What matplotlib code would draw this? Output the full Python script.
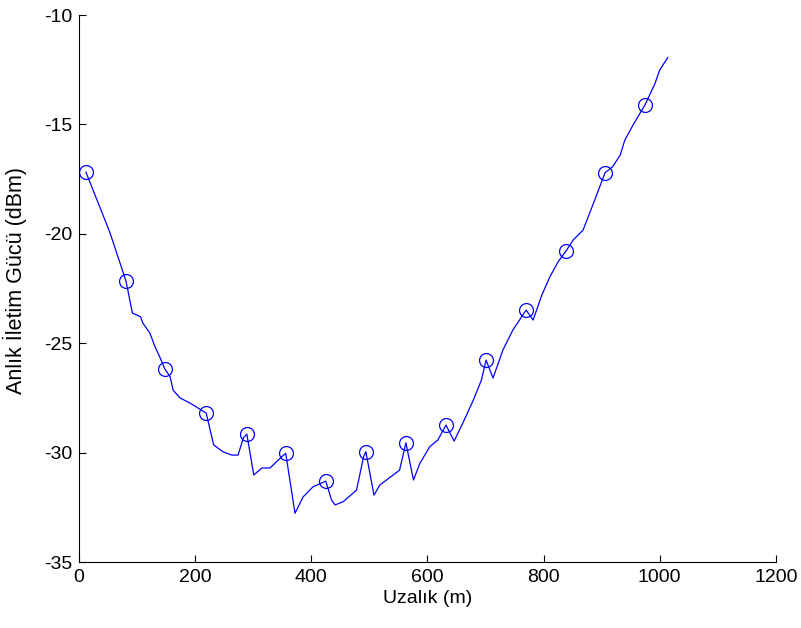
import matplotlib
matplotlib.use('Agg')
import matplotlib.pyplot as plt

plt.rcParams['font.family'] = ['Liberation Sans', 'DejaVu Sans']
plt.rcParams['font.size'] = 14
plt.rcParams['axes.unicode_minus'] = False

# mesafe (m) ve anlik iletim gucu (dBm)
distance = [12, 53, 81, 92, 106, 110, 122, 131, 140, 148, 157, 162, 174, 191, 205,
            219, 232, 248, 263, 274, 283, 289, 301, 315, 329, 349, 356, 372, 386,
            403, 425, 435, 441, 455, 478, 490, 494, 508, 518, 541, 552, 563, 576,
            587, 604, 618, 632, 646, 662, 679, 693, 701, 713, 730, 747, 770, 782,
            797, 811, 825, 839, 851, 868, 888, 906, 919, 932, 940, 954, 966, 975,
            992, 1000, 1014]
power = [-17.18, -19.92, -22.16, -23.62, -23.79, -24.08, -24.53, -25.16, -25.68,
         -26.18, -26.53, -27.14, -27.50, -27.73, -27.96, -28.19, -29.65, -29.96,
         -30.11, -30.11, -29.33, -29.15, -31.02, -30.70, -30.70, -30.19, -30.03,
         -32.77, -32.02, -31.56, -31.30, -32.17, -32.39, -32.24, -31.71, -30.19,
         -29.96, -31.94, -31.48, -31.02, -30.80, -29.55, -31.25, -30.49, -29.73,
         -29.42, -28.74, -29.47, -28.59, -27.60, -26.68, -25.77, -26.59, -25.31,
         -24.40, -23.48, -23.94, -22.80, -21.96, -21.28, -20.77, -20.28, -19.83,
         -18.46, -17.20, -16.93, -16.40, -15.71, -15.03, -14.49, -14.09, -13.12,
         -12.51, -11.94]

# isaretli noktalar
mark_distance = [12, 81, 148, 219, 289, 356, 425, 494, 563, 632, 701, 770, 839, 906, 975]
mark_power = [-17.18, -22.16, -26.18, -28.19, -29.15, -30.03, -31.30, -29.96, -29.55,
              -28.74, -25.77, -23.48, -20.77, -17.20, -14.09]

fig = plt.figure(figsize=(8.01, 6.28), dpi=100)
ax = fig.add_axes([0.0986, 0.105, 0.870, 0.871])

ax.plot(distance, power, color='#0000ff', linewidth=0.9)
ax.plot(mark_distance, mark_power, linestyle='none', marker='o', markersize=10,
        markerfacecolor='none', markeredgecolor='#0000ff', markeredgewidth=0.9)

ax.set_xlim(0, 1200)
ax.set_ylim(-35, -10)
ax.set_xticks(range(0, 1201, 200))
ax.set_yticks(range(-35, -9, 5))
ax.spines['top'].set_visible(False)
ax.spines['right'].set_visible(False)
ax.tick_params(direction='in', length=5, width=0.8, pad=5)

ax.set_xlabel('Uzalık (m)', labelpad=3)
ax.set_ylabel('Anlık İletim Gücü (dBm)', fontsize=15.5)
ax.yaxis.set_label_coords(-0.075, 0.515)

fig.savefig('out.png', dpi=100)
